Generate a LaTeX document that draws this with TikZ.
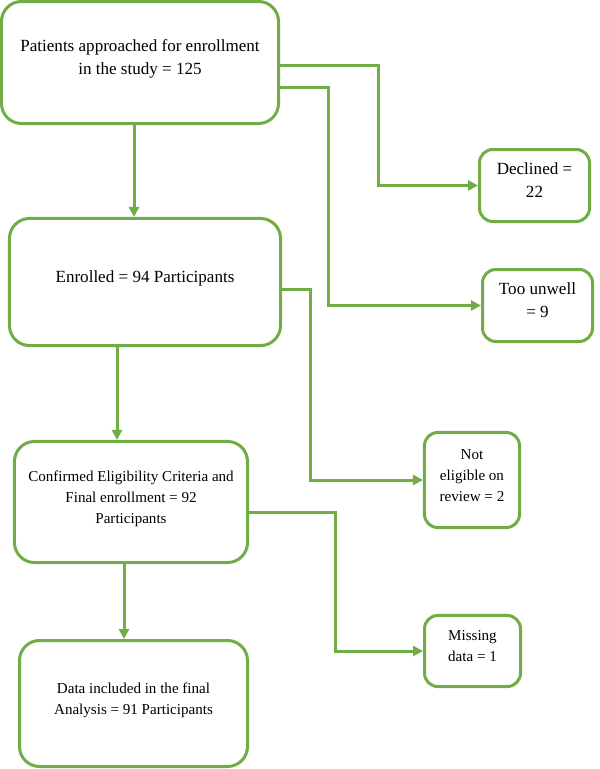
\documentclass[tikz,border=0pt]{standalone}
\usepackage{fontspec}
\setmainfont{Liberation Serif}
\usepackage{xcolor}
\usepackage{tikz}
\usetikzlibrary{arrows.meta, positioning}
\definecolor{flowgreen}{RGB}{112,173,71}
% text block set a little above the box centre
\newcommand{\lift}[1]{\raisebox{3pt}[\height][\depth]{\begin{tabular}{@{}c@{}}#1\end{tabular}}}
\begin{document}
\begin{tikzpicture}[
  x=0.75pt, y=-0.75pt,
  >={Triangle[length=7.5pt, width=7.5pt]},
  bigtext/.style={font=\fontsize{12.8pt}{16.9pt}\selectfont},
  smalltext/.style={font=\fontsize{11.3pt}{15.9pt}\selectfont},
  mainbox/.style={draw=flowgreen, line width=2.25pt, rounded corners=15pt, align=center,
                  inner sep=3pt},
  sidebox/.style={draw=flowgreen, line width=2.25pt, rounded corners=10pt, align=center,
                  inner sep=2pt},
  link/.style={->, draw=flowgreen, line width=2.25pt},
]
  \useasboundingbox (0,0) rectangle (600,769);
  % main column
  \node[mainbox, bigtext, minimum width=207.8pt, minimum height=91.5pt] (b1) at (140, 62.5)
    {\lift{Patients approached for enrollment\\ in the study = 125}};
  \node[mainbox, bigtext, minimum width=203.3pt, minimum height=95.3pt] (b2) at (145, 282)
    {\lift{Enrolled = 94 Participants}};
  \node[mainbox, smalltext, minimum width=174.8pt, minimum height=90.8pt] (b3) at (131, 502)
    {\lift{Confirmed Eligibility Criteria and\\ Final enrollment = 92\\ Participants}};
  \node[mainbox, smalltext, minimum width=171pt, minimum height=94.5pt] (b4) at (133.5, 703.5)
    {\lift{Data included in the final\\ Analysis = 91 Participants}};
  % exclusions
  \node[sidebox, bigtext, minimum width=82.5pt, minimum height=54pt] (d1) at (534.5, 185.5)
    {\lift{Declined =\\ 22}};
  \node[sidebox, bigtext, minimum width=82.5pt, minimum height=54pt] (d2) at (537.5, 305.5)
    {\lift{Too unwell\\ = 9}};
  \node[sidebox, smalltext, minimum width=71.3pt, minimum height=71.3pt] (d3) at (472, 480)
    {\lift{Not\\ eligible on\\ review = 2}};
  \node[sidebox, smalltext, minimum width=72pt, minimum height=53.3pt] (d4) at (472.5, 651)
    {\lift{Missing\\ data = 1}};
  % flow down
  \draw[link] (b1.south -| 134,0) -- (b2.north -| 134,0);
  \draw[link] (b2.south -| 117,0) -- (b3.north -| 117,0);
  \draw[link] (b3.south -| 124,0) -- (b4.north -| 124,0);
  % flow to the right
  \draw[link] (b1.east |- 0,65) -| (378, 120) |- (d1.west);
  \draw[link] (b1.east |- 0,87) -| (328, 200) |- (d2.west);
  \draw[link] (b2.east |- 0,289) -| (310, 400) |- (d3.west);
  \draw[link] (b3.east |- 0,512) -| (335, 600) |- (d4.west);
\end{tikzpicture}
\end{document}
